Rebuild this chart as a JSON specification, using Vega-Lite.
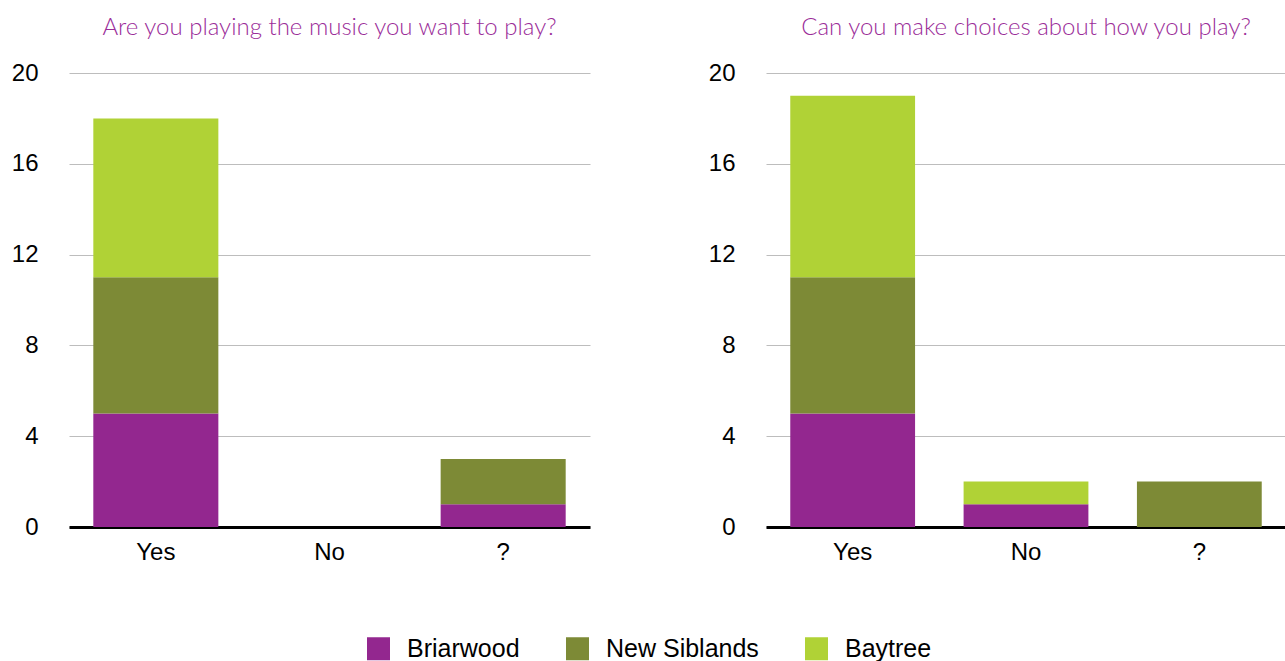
{
  "$schema": "https://vega.github.io/schema/vega-lite/v6.json",
  "background": "white",
  "padding": {"left": 11, "top": 16, "right": 0, "bottom": 0},
  "data": {"values": [
    {"question": "Q1", "answer": "Yes", "school": "Briarwood", "rank": 1, "count": 5},
    {"question": "Q1", "answer": "Yes", "school": "New Siblands", "rank": 2, "count": 6},
    {"question": "Q1", "answer": "Yes", "school": "Baytree", "rank": 3, "count": 7},
    {"question": "Q1", "answer": "?", "school": "Briarwood", "rank": 1, "count": 1},
    {"question": "Q1", "answer": "?", "school": "New Siblands", "rank": 2, "count": 2},
    {"question": "Q2", "answer": "Yes", "school": "Briarwood", "rank": 1, "count": 5},
    {"question": "Q2", "answer": "Yes", "school": "New Siblands", "rank": 2, "count": 6},
    {"question": "Q2", "answer": "Yes", "school": "Baytree", "rank": 3, "count": 8},
    {"question": "Q2", "answer": "No", "school": "Briarwood", "rank": 1, "count": 1},
    {"question": "Q2", "answer": "No", "school": "Baytree", "rank": 3, "count": 1},
    {"question": "Q2", "answer": "?", "school": "New Siblands", "rank": 2, "count": 2}
  ]},
  "spacing": 118,
  "hconcat": [
    {
      "width": 521,
      "height": 454,
      "title": {"text": "Are you playing the music you want to play?"},
      "transform": [{"filter": "datum.question === 'Q1'"}],
      "mark": {"type": "bar"},
      "encoding": {
        "x": {"field": "answer", "type": "nominal", "scale": {"domain": ["Yes", "No", "?"], "paddingInner": 0.28, "paddingOuter": 0.14}, "axis": {"title": null}},
        "y": {"field": "count", "type": "quantitative", "stack": "zero", "scale": {"domain": [0, 20], "nice": false}, "axis": {"title": null, "values": [0, 4, 8, 12, 16, 20]}},
        "color": {"field": "school", "type": "nominal", "scale": {"domain": ["Briarwood", "New Siblands", "Baytree"], "range": ["#93278F", "#7D8A36", "#B0D236"]}, "legend": {"title": null, "orient": "bottom", "direction": "horizontal", "offset": 72}},
        "order": {"field": "rank", "type": "quantitative"}
      }
    },
    {
      "width": 520,
      "height": 454,
      "title": {"text": "Can you make choices about how you play?"},
      "transform": [{"filter": "datum.question === 'Q2'"}],
      "mark": {"type": "bar"},
      "encoding": {
        "x": {"field": "answer", "type": "nominal", "scale": {"domain": ["Yes", "No", "?"], "paddingInner": 0.28, "paddingOuter": 0.14}, "axis": {"title": null}},
        "y": {"field": "count", "type": "quantitative", "stack": "zero", "scale": {"domain": [0, 20], "nice": false}, "axis": {"title": null, "values": [0, 4, 8, 12, 16, 20]}},
        "color": {"field": "school", "type": "nominal", "scale": {"domain": ["Briarwood", "New Siblands", "Baytree"], "range": ["#93278F", "#7D8A36", "#B0D236"]}},
        "order": {"field": "rank", "type": "quantitative"}
      }
    }
  ],
  "config": {
    "view": {"stroke": null},
    "font": "Liberation Sans",
    "title": {"font": "Lato", "fontSize": 24, "fontWeight": 300, "color": "#9B2D99", "anchor": "middle", "offset": 21},
    "axisY": {"domain": false, "ticks": false, "labelPadding": 31, "labelFontSize": 24, "labelColor": "#000000", "labelFont": "Liberation Sans", "gridColor": "#BDBDBD", "gridWidth": 1, "gridOpacity": 1},
    "axisX": {"domain": true, "domainColor": "#000000", "domainWidth": 3, "ticks": false, "labelPadding": 13, "labelFontSize": 24, "labelColor": "#000000", "labelFont": "Liberation Sans", "labelAngle": 0, "grid": false},
    "legend": {"layout": {"bottom": {"anchor": "middle"}}, "symbolType": "square", "symbolSize": 529, "symbolStrokeWidth": 0, "symbolOpacity": 1, "labelFontSize": 25, "labelFont": "Liberation Sans", "labelColor": "#000000", "labelOffset": 16, "columnPadding": 45}
  }
}
